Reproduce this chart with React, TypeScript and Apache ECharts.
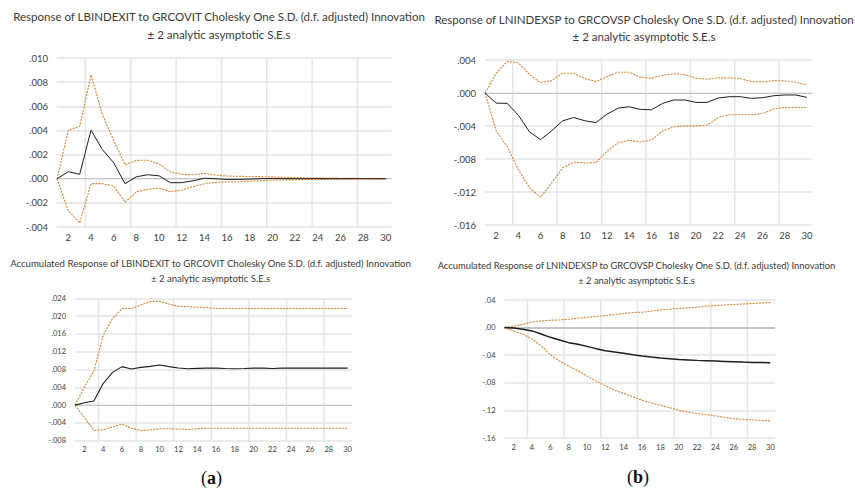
import React, { useEffect, useRef } from 'react';
import * as echarts from 'echarts';

const periods = [1, 2, 3, 4, 5, 6, 7, 8, 9, 10, 11, 12, 13, 14, 15, 16, 17, 18, 19, 20, 21, 22, 23, 24, 25, 26, 27, 28, 29, 30];
const xLabelValues = [2, 4, 6, 8, 10, 12, 14, 16, 18, 20, 22, 24, 26, 28, 30];
const vGridPositions = [3.5, 7.5, 11.5, 15.5, 19.5, 23.5, 27.5];

// Panel (a) top: Response of LBINDEXIT to GRCOVIT
const tlResponse = [0, 0.00058, 0.00036, 0.00402, 0.00242, 0.00132, -0.00041, 0.00016, 0.00033, 0.00024, -0.00033, -0.00033, -0.00017, 0.00004, 0.0, -0.00006, -0.00006, -0.00003, 0.00001, 0.00002, 0.00001, 0.0, 0.0, 0.0, 0.0, 0.0, 0.0, 0.0, 0.0, 0.0];
const tlUpper = [0, 0.00402, 0.00433, 0.0086, 0.00532, 0.00317, 0.00115, 0.00152, 0.00153, 0.00123, 0.00055, 0.00035, 0.00033, 0.00044, 0.0003, 0.00022, 0.0002, 0.00018, 0.00017, 0.00015, 0.00012, 0.0001, 0.00008, 0.00007, 0.00006, 0.00004, 0.00003, 0.00002, 0.00001, 0.00001];
const tlLower = [0, -0.00267, -0.00367, -0.00041, -0.00041, -0.00061, -0.00195, -0.0011, -0.00088, -0.00078, -0.00108, -0.00094, -0.00066, -0.00041, -0.0003, -0.00027, -0.00025, -0.0002, -0.00015, -0.00012, -0.0001, -0.00009, -0.00007, -0.00006, -0.00005, -0.00004, -0.00003, -0.00002, -0.00001, -0.00001];

// Panel (b) top: Response of LNINDEXSP to GRCOVSP
const trResponse = [0, -0.00122, -0.00126, -0.00268, -0.0047, -0.00565, -0.00459, -0.00337, -0.00297, -0.00337, -0.00358, -0.00256, -0.00183, -0.00167, -0.00199, -0.00203, -0.00126, -0.00085, -0.00085, -0.00114, -0.00114, -0.00061, -0.00045, -0.00045, -0.00065, -0.00057, -0.00033, -0.00024, -0.00024, -0.00053];
const trUpper = [0, 0.0024, 0.00382, 0.00366, 0.00224, 0.00126, 0.0015, 0.0024, 0.0024, 0.00175, 0.00138, 0.002, 0.00252, 0.00252, 0.00191, 0.00179, 0.00215, 0.00232, 0.00224, 0.00179, 0.00167, 0.00183, 0.00183, 0.00175, 0.00138, 0.00134, 0.0015, 0.00146, 0.0013, 0.00098];
const trLower = [0, -0.00459, -0.0065, -0.00927, -0.0115, -0.01264, -0.0109, -0.00907, -0.00837, -0.0085, -0.00841, -0.00703, -0.00602, -0.00573, -0.00593, -0.00569, -0.00459, -0.0041, -0.00398, -0.00398, -0.0039, -0.00297, -0.00264, -0.00264, -0.00264, -0.00248, -0.00195, -0.00175, -0.00175, -0.00175];

// Panel (a) bottom: Accumulated Response of LBINDEXIT to GRCOVIT
const blResponse = [0, 0.00053, 0.00091, 0.00485, 0.00735, 0.00864, 0.0081, 0.00848, 0.0087, 0.009, 0.00864, 0.00833, 0.00818, 0.00826, 0.0083, 0.0083, 0.00822, 0.00818, 0.00822, 0.0083, 0.0083, 0.00822, 0.0083, 0.0083, 0.0083, 0.0083, 0.0083, 0.0083, 0.0083, 0.0083];
const blUpper = [0, 0.0041, 0.0076, 0.0157, 0.0195, 0.0217, 0.0217, 0.0225, 0.0233, 0.0233, 0.0227, 0.0222, 0.0221, 0.022, 0.0219, 0.0217, 0.0217, 0.0217, 0.0217, 0.0217, 0.0217, 0.0217, 0.0217, 0.0217, 0.0217, 0.0217, 0.0217, 0.0217, 0.0217, 0.0217];
const blLower = [0, -0.0028, -0.0057, -0.0055, -0.0049, -0.0043, -0.0052, -0.0057, -0.0056, -0.0053, -0.0053, -0.0054, -0.0055, -0.0053, -0.0052, -0.0052, -0.0052, -0.0052, -0.0052, -0.0052, -0.0052, -0.0052, -0.0052, -0.0052, -0.0052, -0.0052, -0.0052, -0.0052, -0.0052, -0.0052];

// Panel (b) bottom: Accumulated Response of LNINDEXSP to GRCOVSP
const brResponse = [0, -0.0005, -0.0024, -0.0048, -0.0092, -0.0141, -0.0179, -0.0218, -0.0242, -0.0272, -0.0305, -0.0335, -0.0354, -0.0373, -0.0393, -0.0412, -0.0427, -0.0441, -0.0451, -0.0461, -0.0468, -0.0475, -0.048, -0.0485, -0.049, -0.0495, -0.05, -0.0504, -0.0507, -0.0509];
const brUpper = [0, 0.0019, 0.0048, 0.0082, 0.0097, 0.0107, 0.0111, 0.0121, 0.0136, 0.015, 0.016, 0.0175, 0.0189, 0.0204, 0.0218, 0.0223, 0.0238, 0.0257, 0.0266, 0.0276, 0.0286, 0.0296, 0.031, 0.032, 0.0328, 0.0335, 0.0342, 0.0349, 0.0357, 0.0364];
const brLower = [0, -0.0048, -0.0097, -0.0165, -0.0267, -0.0393, -0.0485, -0.0558, -0.0625, -0.0703, -0.0776, -0.0844, -0.0907, -0.0955, -0.1004, -0.1052, -0.1091, -0.1125, -0.116, -0.1198, -0.1225, -0.1246, -0.1262, -0.128, -0.13, -0.132, -0.1329, -0.1338, -0.1346, -0.1353];

const titles = [
  ['Response of LBINDEXIT to GRCOVIT Cholesky One S.D. (d.f. adjusted) Innovation', '± 2 analytic asymptotic S.E.s'],
  ['Response of LNINDEXSP to GRCOVSP Cholesky One S.D. (d.f. adjusted) Innovation', '± 2 analytic asymptotic S.E.s'],
  ['Accumulated Response of LBINDEXIT to GRCOVIT Cholesky One S.D. (d.f. adjusted) Innovation', '± 2 analytic asymptotic S.E.s'],
  ['Accumulated Response of LNINDEXSP to GRCOVSP Cholesky One S.D. (d.f. adjusted) Innovation', '± 2 analytic asymptotic S.E.s'],
];

const ORANGE = '#E4822F';
const BLACK = '#1e1e1e';
const HGRIDC = '#ebebeb';
const VGRIDC = '#e6e6e6';
const ZEROC = '#c6c6c6';
const FONT = 'Lato';

const fmt = (d: number) => (v: number) => {
  if (Math.abs(v) < 1e-12) return (0).toFixed(d).slice(1);
  const s = Math.abs(v).toFixed(d).replace(/^0/, '');
  return (v < 0 ? '-' : '') + s;
};

type Panel = {
  grid: { left: number; top: number; width: number; height: number };
  y: { min: number; max: number; interval: number; dec: number };
  response: number[];
  upper: number[];
  lower: number[];
  labelSize: number;
  title: string[];
  titleX: number;
  titleY: [number, number];
  titleSize: number;
  lineW: number;
  zeroW: number;
};

const panels: Panel[] = [
  {
    grid: { left: 57, top: 58, width: 334.5, height: 169 },
    y: { min: -0.004, max: 0.01, interval: 0.002, dec: 3 },
    response: tlResponse, upper: tlUpper, lower: tlLower,
    labelSize: 9.5, title: titles[0], titleX: 219, titleY: [16, 34], titleSize: 11.5, lineW: 1, zeroW: 1.2,
  },
  {
    grid: { left: 485, top: 60, width: 327.5, height: 165 },
    y: { min: -0.016, max: 0.004, interval: 0.004, dec: 3 },
    response: trResponse, upper: trUpper, lower: trLower,
    labelSize: 9.5, title: titles[1], titleX: 644, titleY: [19, 36], titleSize: 11.5, lineW: 1, zeroW: 1.2,
  },
  {
    grid: { left: 75, top: 298.3, width: 277.3, height: 142.4 },
    y: { min: -0.008, max: 0.024, interval: 0.004, dec: 3 },
    response: blResponse, upper: blUpper, lower: blLower,
    labelSize: 7.5, title: titles[2], titleX: 210.5, titleY: [263.5, 278.5], titleSize: 9.6, lineW: 1.1, zeroW: 1.2,
  },
  {
    grid: { left: 504.5, top: 300, width: 270.5, height: 138 },
    y: { min: -0.16, max: 0.04, interval: 0.04, dec: 2 },
    response: brResponse, upper: brUpper, lower: brLower,
    labelSize: 7.5, title: titles[3], titleX: 636.5, titleY: [265, 280], titleSize: 9.4, lineW: 1.5, zeroW: 2,
  },
];

const toPairs = (vals: number[]) => periods.map((p, i) => [p, vals[i]]);

export default function App() {
  const ref = useRef<HTMLDivElement>(null);
  useEffect(() => {
    if (!ref.current) return;
    const chart = echarts.init(ref.current, undefined, { renderer: 'svg' });
    const grids: any[] = [];
    const xAxes: any[] = [];
    const yAxes: any[] = [];
    const series: any[] = [];
    const graphics: any[] = [];

    panels.forEach((pn, i) => {
      grids.push({ ...pn.grid, containLabel: false });
      xAxes.push({
        type: 'value',
        gridIndex: i,
        min: 1,
        max: 30.5,
        interval: 1,
        axisLine: { show: false },
        axisTick: { show: false },
        splitLine: { show: false },
        axisLabel: {
          color: '#404040',
          fontFamily: FONT,
          fontSize: pn.labelSize,
          margin: 5,
          showMaxLabel: true,
          formatter: (v: number) => (xLabelValues.indexOf(v) >= 0 ? String(v) : ''),
        },
      });
      yAxes.push({
        type: 'value',
        gridIndex: i,
        min: pn.y.min,
        max: pn.y.max,
        interval: pn.y.interval,
        axisLine: { show: false },
        axisTick: { show: false },
        splitLine: { show: true, lineStyle: { color: HGRIDC, width: 1.8 } },
        axisLabel: {
          color: '#404040',
          fontFamily: FONT,
          fontSize: pn.labelSize,
          margin: 9,
          formatter: fmt(pn.y.dec),
        },
      });
      // vertical gridlines
      series.push({
        type: 'custom',
        xAxisIndex: i,
        yAxisIndex: i,
        silent: true,
        z: 1,
        clip: false,
        data: vGridPositions.map((x) => [x, 0]),
        encode: { x: 0, y: 1 },
        renderItem: (params: any, api: any) => {
          const cs = params.coordSys;
          const pt = api.coord([api.value(0), api.value(1)]);
          return {
            type: 'line',
            shape: { x1: pt[0], y1: cs.y, x2: pt[0], y2: cs.y + cs.height },
            style: { stroke: VGRIDC, lineWidth: 1.5 },
          };
        },
      });
      // zero line
      series.push({
        type: 'line',
        xAxisIndex: i,
        yAxisIndex: i,
        data: [[1, 0]],
        showSymbol: false,
        symbol: 'none',
        lineStyle: { width: 0, opacity: 0 },
        silent: true,
        z: 2,
        markLine: {
          silent: true,
          symbol: ['none', 'none'],
          label: { show: false },
          animation: false,
          data: [{ yAxis: 0, lineStyle: { color: ZEROC, width: pn.zeroW, type: 'solid' } }],
        },
      });
      const mk = (vals: number[], color: string, dashed: boolean, w: number) => ({
        type: 'line',
        xAxisIndex: i,
        yAxisIndex: i,
        data: toPairs(vals),
        showSymbol: false,
        symbol: 'none',
        z: 10,
        silent: true,
        lineStyle: { color, width: w, type: dashed ? [2, 1.2] : 'solid' },
      });
      series.push(mk(pn.upper, ORANGE, true, 1.1));
      series.push(mk(pn.lower, ORANGE, true, 1.1));
      series.push(mk(pn.response, BLACK, false, pn.lineW));

      pn.title.forEach((t, k) => {
        graphics.push({
          type: 'text',
          x: pn.titleX,
          y: pn.titleY[k],
          silent: true,
          style: {
            text: t,
            fill: '#3a3a3a',
            font: `${pn.titleSize}px ${FONT}`,
            align: 'center',
            verticalAlign: 'middle',
            textAlign: 'center',
            textVerticalAlign: 'middle',
          },
        });
      });
    });

    const captions = [
      { letter: 'a', x: 211.5, y: 477.5 },
      { letter: 'b', x: 638, y: 477 },
    ];
    captions.forEach((c) => {
      graphics.push({
        type: 'text',
        x: c.x,
        y: c.y,
        silent: true,
        style: {
          text: `{p|(}{b|${c.letter}}{p|)}`,
          align: 'center',
          verticalAlign: 'middle',
          textAlign: 'center',
          textVerticalAlign: 'middle',
          fill: '#111',
          rich: {
            p: { fontFamily: 'Liberation Serif', fontSize: 18, fill: '#111' },
            b: { fontFamily: 'Liberation Serif', fontSize: 18, fontWeight: 'bold', fill: '#111' },
          },
        },
      });
    });

    chart.setOption({
      animation: false,
      backgroundColor: '#ffffff',
      grid: grids,
      xAxis: xAxes,
      yAxis: yAxes,
      series,
      graphic: graphics,
    });
    return () => chart.dispose();
  }, []);

  return (
    <div
      ref={ref}
      style={{ position: 'fixed', left: 0, top: 0, width: 855, height: 489, background: '#fff' }}
    />
  );
}
